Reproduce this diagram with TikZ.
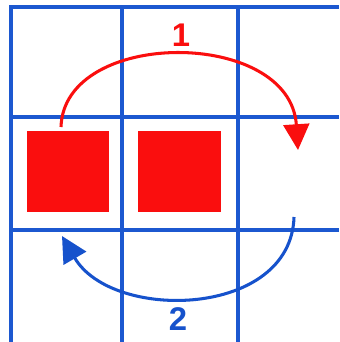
\documentclass[tikz,border=0pt]{standalone}
\usepackage{fontspec}
\setmainfont{Liberation Sans}
\usetikzlibrary{arrows.meta}
\definecolor{gridblue}{RGB}{28,88,208}
\definecolor{movered}{RGB}{250,14,14}
\definecolor{moveblue}{RGB}{22,82,204}
\begin{document}
\begin{tikzpicture}[x=0.03cm,y=-0.03cm,
    gridline/.style={draw=gridblue,line width=2.7pt},
    blockbox/.style={fill=movered,inner sep=0pt,
                minimum width=2.48cm,minimum height=2.43cm},
    movearrow/.style={-{Triangle[length=22pt,width=22pt]},line width=2.6pt},
    steplabel/.style={font=\fontsize{28}{30}\selectfont\bfseries}
]
\useasboundingbox (0,0) rectangle (339,342);
\fill[white] (0,0) rectangle (339,342);
\draw[gridline] (11,342) -- (11,7) -- (339,7);
\draw[gridline] (122,7) -- (122,342); \draw[gridline] (238,7) -- (238,342);
\draw[gridline] (11,117) -- (339,117); \draw[gridline] (11,230) -- (339,230);
\node[blockbox] (sqL) at (68,171.5) {};
\node[blockbox] (sqR) at (179.5,171.5) {};
\coordinate (r1) at (61,127); \coordinate (r2) at (298,150);
\coordinate (b1) at (294,217); \coordinate (b2) at (62,236);
\draw[movearrow,movered] (r1) .. controls (64,28) and (290,28) .. (r2);
\draw[movearrow,moveblue] (b1) .. controls (291,318) and (112,322) .. (b2);
\node[steplabel,text=movered] (lab1) at (181,35) {1};
\node[steplabel,text=moveblue] (lab2) at (178,319) {2};
\end{tikzpicture}
\end{document}
